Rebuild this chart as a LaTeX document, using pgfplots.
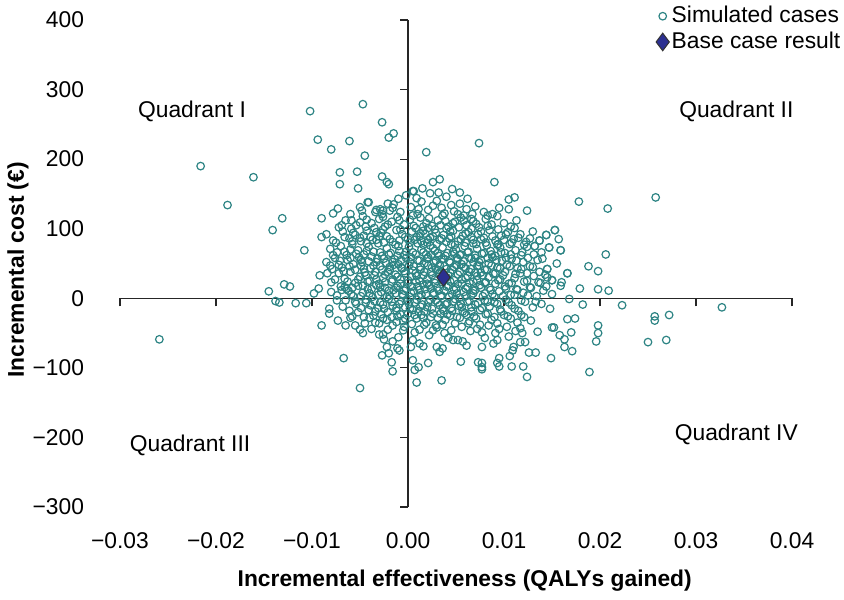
\documentclass[border=0pt]{standalone}
\usepackage{pgfplots}
\pgfplotsset{compat=1.18}
\usepackage{fontspec}
\setmainfont{Liberation Sans}
\definecolor{teal1}{RGB}{45,132,132}
\definecolor{navy1}{RGB}{44,48,145}
\begin{document}
\fontsize{11.4pt}{13.6pt}\selectfont
\begin{tikzpicture}
\begin{axis}[
  scale only axis, width=336pt, height=243.5pt,
  xmin=-0.03, xmax=0.04, ymin=-300, ymax=400,
  scaled x ticks=false, scaled y ticks=false,
  axis lines=middle,
  axis line style={-, line width=0.6pt, black!85},
  xtick={-0.03,-0.02,-0.01,0,0.01,0.02,0.03,0.04},
  ytick={-300,-200,-100,0,100,200,300,400},
  xticklabels={}, yticklabels={},
  tick style={black!85, line width=0.6pt},
  major tick length=4pt, tick align=outside,
  clip=false,
  legend style={draw=none, fill=none, at={(1.076,1.034)}, anchor=north east,
    font=\fontsize{11.4pt}{13.6pt}\selectfont, row sep=0.5pt, inner sep=0pt,
    nodes={inner sep=1.2pt}},
  legend cell align=left,
  legend image code/.code={\draw[mark repeat=2,mark phase=2,#1] plot coordinates {(0cm,0cm)(0.12cm,0cm)(0.24cm,0cm)};},
]
\addplot[only marks, mark=o, mark size=1.9pt, mark options={draw=teal1, fill=white, line width=0.6pt}] coordinates {
(-0.0216,190)(-0.0188,134)(-0.0161,174)(-0.0131,115)(-0.0141,98)(-0.0108,69)(-0.0102,269)(-0.0047,279)(-0.0027,253)(-0.0020,231)(-0.0015,237)(-0.0094,228)(-0.0061,226)(-0.0080,214)(-0.0045,205)(-0.0071,181)(-0.0053,182)(-0.0071,164)(-0.0052,158)(-0.0027,175)(-0.0022,167)(-0.0020,164)
(0.0019,210)(0.0074,223)(0.0090,167)(0.0111,145)(0.0105,142)(0.0105,128)(0.0124,126)(0.0178,139)(0.0208,129)(0.0258,145)(0.0206,63)(0.0188,46)(0.0198,39)(0.0166,36)(0.0153,98)(0.0157,85)(0.0159,69)(0.0144,91)(0.0147,73)(0.0145,42)(0.0150,26)(0.0137,83)(0.0132,75)
(-0.0059,112)(-0.0048,126)(-0.0042,138)(-0.0034,124)(-0.0029,128)(-0.0026,126)(-0.0015,135)(0.0005,154)
(0.0006,154)(0.0023,151)(0.0026,167)(0.0033,171)(0.0032,152)(0.0046,157)(0.0054,152)(-0.0002,148)(0.0015,158)(0.0040,146)(0.0062,143)(0.0009,144)(-0.0010,143)
(0.0014,139)(0.0045,134)(0.0054,136)(-0.0041,138)(-0.0073,129)(-0.0078,122)(-0.0050,131)(-0.0033,127)(-0.0021,136)(-0.0008,124)(0.0003,131)(0.0021,127)(0.0030,140)(0.0038,122)(0.0061,128)(0.0070,132)(0.0079,124)(0.0088,121)(0.0095,130)(-0.0060,121)(-0.0027,121)(0.0010,121)(0.0048,125)(0.0026,133)(0.0067,121)(-0.0016,130)
(-0.0090,115)(-0.0072,102)(-0.0065,112)(-0.0054,105)(-0.0047,118)(-0.0038,108)(-0.0030,114)(-0.0024,103)(-0.0017,110)(-0.0011,117)(-0.0004,106)(0.0002,113)(0.0008,101)(0.0013,116)(0.0019,108)(0.0025,104)(0.0031,112)(0.0036,119)(0.0042,103)(0.0049,110)(0.0055,116)(0.0061,105)(0.0068,111)(0.0074,102)(0.0081,114)(0.0087,106)(0.0093,118)(0.0100,108)(0.0107,103)(0.0113,112)(-0.0059,100)(0.0040,100)(0.0016,103)(-0.0035,101)(0.0058,119)
(-0.0090,88)(-0.0085,92)(-0.0078,83)(-0.0068,96)(-0.0061,86)(-0.0055,91)(-0.0049,82)(-0.0043,97)(-0.0039,88)(-0.0033,84)(-0.0028,94)(-0.0022,89)(-0.0016,81)(-0.0012,98)(-0.0006,92)(0.0000,85)(0.0004,96)(0.0009,88)(0.0014,82)(0.0018,93)(0.0023,87)(0.0028,99)(0.0033,84)(0.0037,91)(0.0043,86)(0.0047,97)(0.0052,82)(0.0057,90)(0.0063,95)(0.0068,84)(0.0073,92)(0.0079,87)(0.0085,98)(0.0091,83)(0.0097,90)(0.0104,95)(0.0110,85)(0.0117,92)(0.0123,81)(0.0130,96)(0.0144,91)(0.0153,98)(0.0137,83)(-0.0046,90)(0.0020,80)
(-0.0081,71)(-0.0074,66)(-0.0070,75)(-0.0064,62)(-0.0058,78)(-0.0052,69)(-0.0046,63)(-0.0041,74)(-0.0036,67)(-0.0031,79)(-0.0027,61)(-0.0022,72)(-0.0018,65)(-0.0013,77)(-0.0009,68)(-0.0004,62)(0.0001,74)(0.0005,66)(0.0010,79)(0.0014,70)(0.0019,63)(0.0023,76)(0.0028,68)(0.0032,61)(0.0036,73)(0.0041,65)(0.0045,78)(0.0050,70)(0.0054,62)(0.0059,75)(0.0063,67)(0.0068,79)(0.0072,71)(0.0077,64)(0.0082,76)(0.0086,68)(0.0091,61)(0.0096,73)(0.0101,65)(0.0106,78)(0.0112,69)(0.0118,62)(0.0124,74)(0.0132,75)(0.0147,73)(0.0159,69)(0.0139,66)(-0.0060,70)(0.0026,72)(0.0048,64)(-0.0010,75)(0.0093,77)
(-0.0085,52)(-0.0081,47)(-0.0076,58)(-0.0069,44)(-0.0063,55)(-0.0057,49)(-0.0051,59)(-0.0046,42)(-0.0041,53)(-0.0036,47)(-0.0032,57)(-0.0027,41)(-0.0023,51)(-0.0019,45)(-0.0014,56)(-0.0010,49)(-0.0006,43)(-0.0002,58)(0.0002,52)(0.0006,46)(0.0010,55)(0.0013,41)(0.0017,50)(0.0021,59)(0.0025,44)(0.0029,54)(0.0033,48)(0.0037,57)(0.0040,42)(0.0044,51)(0.0048,45)(0.0052,56)(0.0056,49)(0.0060,43)(0.0064,58)(0.0068,52)(0.0072,46)(0.0076,55)(0.0080,41)(0.0084,50)(0.0088,59)(0.0093,44)(0.0098,54)(0.0103,48)(0.0108,57)(0.0114,43)(0.0120,52)(0.0127,46)(0.0135,55)(0.0145,42)(0.0155,50)(-0.0048,52)(0.0031,41)(0.0070,58)
(-0.0092,33)(-0.0084,36)(-0.0072,36)(-0.0080,23)(-0.0066,28)(-0.0060,38)(-0.0055,22)(-0.0050,31)(-0.0045,37)(-0.0040,25)(-0.0035,33)(-0.0030,21)(-0.0026,29)(-0.0021,38)(-0.0017,24)(-0.0013,34)(-0.0008,27)(-0.0004,39)(0.0000,22)(0.0004,31)(0.0008,36)(0.0012,25)(0.0016,33)(0.0020,21)(0.0024,38)(0.0028,27)(0.0032,35)(0.0036,23)(0.0040,30)(0.0044,37)(0.0048,26)(0.0052,34)(0.0056,21)(0.0060,29)(0.0064,38)(0.0068,24)(0.0072,32)(0.0076,37)(0.0080,22)(0.0084,30)(0.0089,35)(0.0094,26)(0.0099,33)(0.0105,21)(0.0111,29)(0.0117,36)(0.0124,25)(0.0131,32)(0.0138,22)(0.0145,30)(0.0150,26)(0.0166,36)(0.0160,23)(-0.0066,16)(-0.0064,14)
(-0.0129,20)(-0.0123,17)(-0.0145,10)(-0.0098,7)(-0.0093,14)(-0.0080,9)(-0.0074,4)(-0.0070,17)(-0.0062,11)(-0.0057,3)(-0.0052,18)(-0.0047,8)(-0.0042,13)(-0.0037,2)(-0.0033,19)(-0.0028,9)(-0.0024,15)(-0.0019,4)(-0.0015,12)(-0.0011,18)(-0.0006,6)(-0.0002,14)(0.0002,2)(0.0006,10)(0.0010,17)(0.0014,5)(0.0018,13)(0.0022,19)(0.0026,7)(0.0030,15)(0.0034,3)(0.0038,11)(0.0042,18)(0.0046,6)(0.0050,14)(0.0054,1)(0.0058,9)(0.0062,16)(0.0066,4)(0.0070,12)(0.0075,19)(0.0080,7)(0.0085,15)(0.0090,2)(0.0095,10)(0.0101,17)(0.0107,5)(0.0113,13)(0.0120,8)(0.0127,16)(0.0134,3)(0.0141,11)(0.0150,6)(0.0179,14)(0.0198,13)(0.0209,11)(0.0159,18)
(-0.0138,-4)(-0.0134,-6)(-0.0117,-7)(-0.0106,-7)(-0.0074,-3)(-0.0082,-15)(-0.0068,-12)(-0.0061,-18)(-0.0055,-5)(-0.0049,-14)(-0.0044,-2)(-0.0039,-10)(-0.0034,-19)(-0.0029,-6)(-0.0025,-15)(-0.0020,-1)(-0.0016,-11)(-0.0012,-18)(-0.0007,-4)(-0.0003,-13)(0.0001,-8)(0.0005,-17)(0.0009,-2)(0.0013,-12)(0.0017,-19)(0.0021,-6)(0.0025,-15)(0.0029,-3)(0.0033,-10)(0.0037,-18)(0.0041,-7)(0.0045,-14)(0.0049,-1)(0.0053,-11)(0.0057,-19)(0.0062,-5)(0.0066,-13)(0.0070,-9)(0.0075,-17)(0.0080,-3)(0.0085,-12)(0.0090,-6)(0.0096,-16)(0.0102,-2)(0.0108,-10)(0.0115,-18)(0.0122,-5)(0.0130,-13)(0.0139,-8)(0.0168,-1)(0.0182,-9)(0.0223,-10)(0.0148,-15)
(-0.0082,-22)(-0.0073,-32)(-0.0090,-39)(-0.0065,-39)(-0.0055,-39)(-0.0045,-36)(-0.0058,-26)(-0.0040,-28)(-0.0034,-35)(-0.0028,-23)(-0.0022,-31)(-0.0016,-39)(-0.0011,-26)(-0.0005,-33)(0.0000,-22)(0.0004,-37)(0.0009,-29)(0.0014,-24)(0.0019,-35)(0.0024,-27)(0.0029,-39)(0.0034,-22)(0.0039,-31)(0.0044,-25)(0.0049,-36)(0.0054,-28)(0.0059,-21)(0.0064,-33)(0.0069,-26)(0.0075,-38)(0.0081,-23)(0.0087,-31)(0.0093,-36)(0.0100,-24)(0.0107,-29)(0.0114,-35)(0.0121,-27)(0.0128,-32)(0.0166,-30)(0.0174,-29)(0.0198,-39)(0.0257,-26)(0.0257,-32)(0.0272,-24)(0.0327,-13)
(-0.0050,-45)(-0.0047,-50)(-0.0030,-52)(-0.0026,-52)(-0.0025,-59)(-0.0010,-56)(-0.0005,-46)(0.0005,-60)(-0.0016,-62)(0.0038,-50)(0.0042,-57)(0.0047,-60)(0.0052,-60)(0.0057,-62)(0.0077,-49)(0.0080,-57)(0.0119,-50)(0.0117,-43)(0.0150,-42)(0.0152,-42)(0.0158,-53)(0.0163,-59)(0.0170,-49)(0.0198,-50)(0.0012,-45)(0.0022,-53)(0.0030,-42)(0.0065,-47)(0.0095,-44)(0.0105,-55)(0.0135,-48)(-0.0259,-59)
(-0.0067,-86)(-0.0050,-129)(-0.0027,-82)(-0.0020,-79)(-0.0022,-70)(-0.0017,-92)(-0.0016,-105)(-0.0011,-72)(-0.0009,-75)(0.0003,-70)(0.0005,-89)(0.0007,-103)(0.0011,-99)(0.0009,-121)(0.0021,-93)(0.0035,-118)(0.0055,-91)(0.0012,-65)(0.0016,-69)(0.0030,-70)(0.0033,-77)(0.0036,-72)(0.0061,-68)(0.0073,-92)(0.0077,-93)(0.0077,-102)(0.0077,-99)(0.0077,-70)(0.0093,-93)(0.0095,-98)(0.0095,-86)(0.0089,-65)(0.0093,-60)(0.0108,-98)(0.0106,-83)(0.0110,-70)(0.0109,-75)(0.0120,-98)(0.0124,-113)(0.0126,-78)(0.0133,-78)(0.0117,-63)(0.0122,-63)(0.0149,-86)(0.0163,-70)(0.0171,-76)(0.0189,-106)(0.0196,-62)(0.0250,-63)(0.0269,-60)
(-0.0043,113)(-0.0026,117)(-0.0009,112)(0.0005,119)(0.0022,115)(0.0039,111)(0.0052,121)(0.0066,114)(0.0083,119)(-0.0019,126)(0.0011,128)(0.0035,130)(0.0058,112)
(-0.0069,105)(-0.0057,94)(-0.0044,103)(-0.0033,95)(-0.0021,106)(-0.0008,99)(0.0006,104)(0.0013,93)(0.0021,101)(0.0029,94)(0.0034,105)(0.0044,96)(0.0053,102)(0.0060,93)(0.0066,100)(0.0076,96)(0.0083,104)(0.0094,99)(0.0102,92)(0.0111,101)(-0.0026,99)(0.0016,97)(0.0047,108)(0.0071,107)(-0.0050,109)
(-0.0075,80)(-0.0066,88)(-0.0058,82)(-0.0050,87)(-0.0043,79)(-0.0037,84)(-0.0030,89)(-0.0025,80)(-0.0019,85)(-0.0009,83)(-0.0003,88)(0.0002,80)(0.0007,84)(0.0012,89)(0.0016,77)(0.0021,84)(0.0026,89)(0.0030,78)(0.0035,86)(0.0040,81)(0.0045,89)(0.0049,77)(0.0055,85)(0.0060,80)(0.0066,88)(0.0071,78)(0.0076,85)(0.0081,80)(0.0088,89)(0.0094,78)(0.0100,84)(0.0108,80)(0.0115,87)(0.0121,77)(0.0127,86)
(-0.0078,62)(-0.0071,54)(-0.0066,67)(-0.0060,58)(-0.0054,64)(-0.0049,55)(-0.0043,68)(-0.0038,60)(-0.0033,52)(-0.0029,66)(-0.0025,57)(-0.0020,63)(-0.0016,52)(-0.0011,61)(-0.0007,55)(-0.0002,67)(0.0003,59)(0.0008,63)(0.0012,54)(0.0016,66)(0.0020,57)(0.0024,62)(0.0027,51)(0.0031,65)(0.0035,56)(0.0039,61)(0.0043,53)(0.0047,67)(0.0051,58)(0.0055,63)(0.0058,53)(0.0062,66)(0.0066,57)(0.0070,62)(0.0074,52)(0.0079,65)(0.0083,58)(0.0087,63)(0.0092,55)(0.0097,66)(0.0102,58)(0.0107,63)(0.0113,54)(0.0119,66)(0.0125,58)(0.0131,63)(0.0140,57)
(-0.0079,42)(-0.0072,48)(-0.0067,39)(-0.0061,46)(-0.0055,41)(-0.0049,47)(-0.0044,33)(-0.0039,43)(-0.0034,38)(-0.0029,46)(-0.0024,34)(-0.0019,41)(-0.0015,48)(-0.0011,31)(-0.0007,44)(-0.0003,36)(0.0001,47)(0.0005,40)(0.0009,32)(0.0013,45)(0.0017,38)(0.0021,47)(0.0025,33)(0.0029,42)(0.0033,37)(0.0038,46)(0.0042,33)(0.0046,41)(0.0050,48)(0.0054,38)(0.0058,45)(0.0062,32)(0.0066,42)(0.0070,37)(0.0074,47)(0.0078,33)(0.0082,41)(0.0087,47)(0.0091,36)(0.0096,43)(0.0101,38)(0.0106,46)(0.0112,35)(0.0118,42)(0.0124,36)(0.0130,45)(0.0137,38)(0.0143,34)
(-0.0076,27)(-0.0069,12)(-0.0063,24)(-0.0058,15)(-0.0052,27)(-0.0047,18)(-0.0042,24)(-0.0038,13)(-0.0033,27)(-0.0029,16)(-0.0024,23)(-0.0020,11)(-0.0016,27)(-0.0012,15)(-0.0008,21)(-0.0004,11)(0.0000,26)(0.0004,17)(0.0008,24)(0.0012,12)(0.0016,20)(0.0020,27)(0.0024,14)(0.0028,22)(0.0032,11)(0.0036,26)(0.0040,17)(0.0044,24)(0.0048,12)(0.0052,21)(0.0056,27)(0.0060,14)(0.0064,22)(0.0068,11)(0.0072,26)(0.0076,15)(0.0081,23)(0.0086,12)(0.0091,21)(0.0096,27)(0.0102,14)(0.0108,22)(0.0114,12)(0.0121,24)(0.0128,15)(0.0136,23)(0.0144,17)
(-0.0065,-3)(-0.0059,6)(-0.0054,-8)(-0.0049,3)(-0.0044,-6)(-0.0040,7)(-0.0035,-4)(-0.0031,5)(-0.0026,-9)(-0.0022,2)(-0.0017,-5)(-0.0013,7)(-0.0009,-8)(-0.0005,4)(-0.0001,-3)(0.0003,8)(0.0007,-6)(0.0011,3)(0.0015,-9)(0.0019,6)(0.0023,-2)(0.0027,8)(0.0031,-6)(0.0035,4)(0.0039,-9)(0.0043,2)(0.0047,-5)(0.0051,7)(0.0055,-8)(0.0060,3)(0.0064,-4)(0.0068,7)(0.0073,-7)(0.0078,3)(0.0083,-5)(0.0088,6)(0.0093,-8)(0.0099,3)(0.0105,-6)(0.0111,5)(0.0118,-3)(0.0125,4)(0.0133,-5)
(-0.0060,-28)(-0.0052,-20)(-0.0046,-27)(-0.0041,-17)(-0.0036,-25)(-0.0031,-14)(-0.0026,-29)(-0.0021,-20)(-0.0017,-27)(-0.0012,-14)(-0.0008,-23)(-0.0003,-29)(0.0002,-15)(0.0007,-24)(0.0011,-19)(0.0016,-28)(0.0020,-13)(0.0026,-22)(0.0031,-28)(0.0036,-15)(0.0041,-23)(0.0046,-18)(0.0051,-27)(0.0056,-13)(0.0061,-24)(0.0066,-19)(0.0071,-29)(0.0077,-14)(0.0083,-22)(0.0090,-27)(0.0097,-19)(0.0104,-26)(0.0111,-15)(0.0118,-24)
(-0.0038,-44)(-0.0030,-36)(-0.0021,-45)(-0.0012,-34)(-0.0004,-41)(0.0007,-49)(0.0017,-38)(0.0026,-46)(0.0036,-38)(0.0045,-46)(0.0056,-41)(0.0063,-36)(0.0072,-44)(0.0084,-39)(0.0091,-50)(0.0103,-41)(0.0112,-47)
};
\addlegendentry{Simulated cases}
\addplot[only marks, mark=diamond*, mark size=4.4pt, mark options={draw=black!80, fill=navy1, line width=0.5pt}] coordinates {(0.0037,30)};
\addlegendentry{Base case result}
\node at (axis cs:-0.0225,269) {Quadrant I};
\node at (axis cs:0.0342,269) {Quadrant II};
\node at (axis cs:-0.0227,-211) {Quadrant III};
\node at (axis cs:0.0342,-195) {Quadrant IV};
\end{axis}
\begin{axis}[
  scale only axis, width=336pt, height=243.5pt,
  xmin=-0.03, xmax=0.04, ymin=-300, ymax=400,
  scaled x ticks=false, scaled y ticks=false,
  axis lines=left,
  axis line style={draw=none},
  major tick length=0pt,
  xtick={-0.03,-0.02,-0.01,0,0.01,0.02,0.03,0.04},
  ytick={-300,-200,-100,0,100,200,300,400},
  xticklabels={−0.03,−0.02,−0.01,0.00,0.01,0.02,0.03,0.04},
  yticklabels={−300,−200,−100,0,100,200,300,400},
  xticklabel style={yshift=-9pt},
  yticklabel style={xshift=-14pt},
  xlabel={\bfseries Incremental effectiveness (QALYs gained)},
  ylabel={\bfseries Incremental cost (€)},
  xlabel style={at={(axis description cs:0.513,-0.152)}, anchor=center},
  ylabel style={at={(axis description cs:-0.152,0.487)}, anchor=center},
]
\end{axis}
\pgfresetboundingbox
\path (-60pt,-46pt) rectangle (362pt,253.5pt);
\end{tikzpicture}
\end{document}
